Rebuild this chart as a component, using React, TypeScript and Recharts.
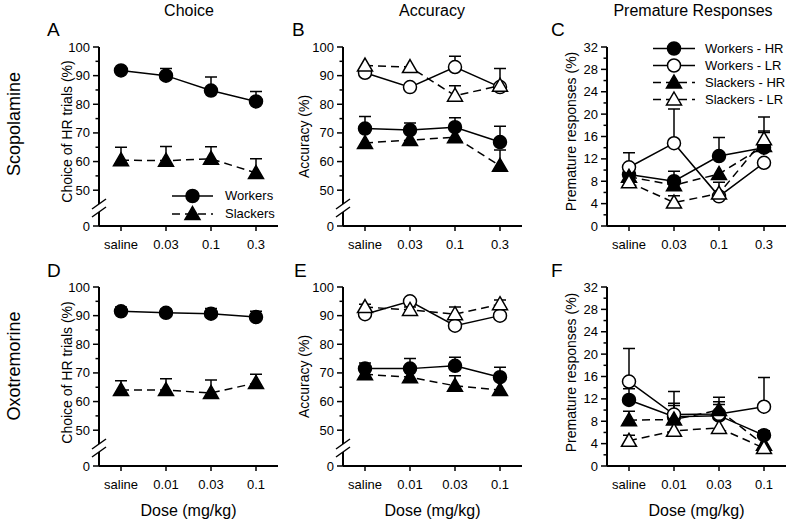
import React from 'react';
import { LineChart, Line, XAxis, YAxis, ErrorBar, Legend } from 'recharts';

const FONT = '"Liberation Sans", Arial, Helvetica, sans-serif';

// ---------- categories & ticks ----------
const scopDoses = ['saline', '0.03', '0.1', '0.3'];
const oxoDoses = ['saline', '0.01', '0.03', '0.1'];
const BREAK_ZERO = 37.5; // axis position that shows "0" below the break
const pctTicks = [37.5, 50, 55, 60, 65, 70, 75, 80, 85, 90, 95, 100];
const premTicks = [0, 2, 4, 6, 8, 10, 12, 14, 16, 18, 20, 22, 24, 26, 28, 30, 32];

// ---------- Panel A: Scopolamine, Choice ----------
const aWorkers = [91.8, 90, 84.8, 81];
const aWorkersErr = [0.8, 2.5, 4.7, 3.5];
const aSlackers = [60.5, 60.3, 61, 56];
const aSlackersErr = [4.5, 5, 4.2, 5];

// ---------- Panel B: Scopolamine, Accuracy ----------
const bWHR = [71.5, 71, 72, 66.8];
const bWHRErr = [4.2, 2.5, 3.3, 5.5];
const bWLR = [91, 86, 93, 86];
const bWLRErr = [0, 0, 3.8, 6.5];
const bSHR = [66.5, 67.5, 68.5, 58.5];
const bSHRErr = [0, 0, 0, 5.5];
const bSLR = [93.5, 93, 83, 86.5];
const bSLRErr = [0, 0, 3.5, 0];

// ---------- Panel C: Scopolamine, Premature ----------
const cWHR = [9.2, 8, 12.5, 14];
const cWHRErr = [0, 1.8, 3.3, 3];
const cWLR = [10.5, 14.8, 5.3, 11.3];
const cWLRErr = [2.6, 6.1, 0, 0];
const cSHR = [8.8, 7.3, 9.3, 14.3];
const cSHRErr = [0, 0, 0, 2.4];
const cSLR = [7.8, 4.2, 5.8, 15.5];
const cSLRErr = [0, 1.2, 2, 4];

// ---------- Panel D: Oxotremorine, Choice ----------
const dWorkers = [91.5, 91, 90.7, 89.5];
const dWorkersErr = [1.5, 1.2, 1.8, 2];
const dSlackers = [64, 64, 63, 66.5];
const dSlackersErr = [3.3, 4, 4.5, 3];

// ---------- Panel E: Oxotremorine, Accuracy ----------
const eWHR = [71.5, 71.5, 72.5, 68.5];
const eWHRErr = [2, 3.5, 3, 3.5];
const eWLR = [90.5, 95, 86.5, 90];
const eWLRErr = [0, 0, 0, 0];
const eSHR = [69.5, 68.5, 65.5, 64];
const eSHRErr = [0, 0, 3.5, 0];
const eSLR = [93, 92, 90.5, 94];
const eSLRErr = [1, 1, 2.5, 1.5];

// ---------- Panel F: Oxotremorine, Premature ----------
const fWHR = [11.8, 8.8, 9, 5.5];
const fWHRErr = [2, 2.4, 2.5, 0.8];
const fWLR = [15.1, 9.2, 9.3, 10.6];
const fWLRErr = [5.9, 4.1, 3, 5.2];
const fSHR = [8.2, 8.3, 10, 3.8];
const fSHRErr = [1.6, 2.5, 1, 0];
const fSLR = [4.5, 6.3, 6.8, 3.2];
const fSLRErr = [1, 0, 0, 0];

type StyleKey = 'WHR' | 'WLR' | 'SHR' | 'SLR';
interface SeriesDef {
  name: string;
  values: number[];
  errs: number[];
  style: StyleKey;
}

const STYLES: Record<StyleKey, { filled: boolean; shape: 'circle' | 'triangle'; dash?: string }> = {
  WHR: { filled: true, shape: 'circle' },
  WLR: { filled: false, shape: 'circle' },
  SHR: { filled: true, shape: 'triangle', dash: '8 5' },
  SLR: { filled: false, shape: 'triangle', dash: '8 5' },
};

function markerEl(cx: number, cy: number, sk: StyleKey, key?: string) {
  const st = STYLES[sk];
  const fill = st.filled ? '#000' : '#fff';
  if (st.shape === 'circle') {
    return <circle key={key} cx={cx} cy={cy} r={6.5} fill={fill} stroke="#000" strokeWidth={1.5} />;
  }
  const d = `M${cx},${cy - 7.5} L${cx + 7.5},${cy + 5.5} L${cx - 7.5},${cy + 5.5} Z`;
  return <path key={key} d={d} fill={fill} stroke="#000" strokeWidth={1.5} strokeLinejoin="miter" />;
}

function buildRows(doses: string[], series: SeriesDef[]) {
  return doses.map((dose, i) => {
    const row: any = { dose };
    series.forEach((s, j) => {
      row[`s${j}`] = s.values[i];
      const e = s.errs[i];
      row[`e${j}`] = e > 0 ? [0, e] : null;
      row[`c${j}`] = e > 0 ? s.values[i] + e : null;
    });
    return row;
  });
}

function renderYTick(p: any, kind: 'pct' | 'prem') {
  const { x, y, payload } = p;
  const v = payload.value;
  const minor = kind === 'pct' ? v % 10 === 5 : v % 4 !== 0;
  const isBreakZero = kind === 'pct' && v === BREAK_ZERO;
  const label = isBreakZero ? '0' : String(v);
  const c = y - 18;
  return (
    <g key={`yt-${v}`}>
      <line x1={x - (minor ? 3.5 : 6)} x2={x} y1={y} y2={y} stroke="#000" strokeWidth={1.5} />
      {!minor && (
        <text x={x - 9} y={y} dy="0.35em" textAnchor="end" fontSize={13} fill="#000" fontFamily={FONT}>
          {label}
        </text>
      )}
      {isBreakZero && (
        <g>
          <rect x={x - 3} y={c - 4} width={6} height={8} fill="#fff" />
          <line x1={x - 7} y1={c + 1} x2={x + 7} y2={c - 9} stroke="#000" strokeWidth={1.5} />
          <line x1={x - 7} y1={c + 9} x2={x + 7} y2={c - 1} stroke="#000" strokeWidth={1.5} />
        </g>
      )}
    </g>
  );
}

interface LegendSpec {
  left: number;
  top: number;
  rowH: number;
  lineW: number;
  gap: number;
  items: { name: string; style: StyleKey }[];
}

function LegendBox({ spec }: { spec: LegendSpec }) {
  return (
    <div style={{ fontFamily: FONT, fontSize: 13, color: '#000' }}>
      {spec.items.map((it) => {
        const st = STYLES[it.style];
        return (
          <div key={it.name} style={{ display: 'flex', alignItems: 'center', height: spec.rowH }}>
            <svg width={spec.lineW} height={spec.rowH} style={{ overflow: 'visible', display: 'block' }}>
              <line
                x1={0}
                x2={spec.lineW}
                y1={spec.rowH / 2}
                y2={spec.rowH / 2}
                stroke="#000"
                strokeWidth={1.5}
                strokeDasharray={st.dash}
              />
              {markerEl(spec.lineW / 2, spec.rowH / 2, it.style)}
            </svg>
            <span style={{ marginLeft: spec.gap, whiteSpace: 'nowrap', lineHeight: `${spec.rowH}px` }}>{it.name}</span>
          </div>
        );
      })}
    </div>
  );
}

interface PanelProps {
  left: number;
  top: number;
  width: number;
  height: number;
  axisX: number;
  plotRight: number;
  xAxisHeight: number;
  doses: string[];
  series: SeriesDef[];
  kind: 'pct' | 'prem';
  yLabel: string;
  yLabelOffset: number;
  yLabelDy: number;
  showDose: boolean;
  legend?: LegendSpec;
}

const Y_W = 60;
const PLOT_TOP = 47;
const PLOT_BOTTOM = 226;

function Panel(props: PanelProps) {
  const {
    left, top, width, height, axisX, plotRight, xAxisHeight, doses, series, kind,
    yLabel, yLabelOffset, yLabelDy, showDose, legend,
  } = props;
  const data = buildRows(doses, series);
  const margin = {
    top: PLOT_TOP,
    left: axisX - left - Y_W,
    right: left + width - plotRight,
    bottom: height - PLOT_BOTTOM - xAxisHeight,
  };
  return (
    <div style={{ position: 'absolute', left, top }}>
      <LineChart width={width} height={height} data={data} margin={margin}>
        <XAxis
          dataKey="dose"
          type="category"
          interval={0}
          padding={{ left: 22, right: 22 }}
          height={xAxisHeight}
          axisLine={{ stroke: '#000', strokeWidth: 2 }}
          tickLine={{ stroke: '#000', strokeWidth: 1.5 }}
          tickSize={5}
          tickMargin={9}
          tick={{ fontSize: 13, fill: '#000', fontFamily: FONT }}
          label={
            showDose
              ? {
                  content: (lp: any) => {
                    const vb = lp.viewBox || {};
                    return (
                      <text
                        x={vb.x + vb.width / 2}
                        y={vb.y + 44}
                        dominantBaseline="central"
                        textAnchor="middle"
                        fontSize={16}
                        fill="#000"
                        fontFamily={FONT}
                      >
                        Dose (mg/kg)
                      </text>
                    );
                  },
                }
              : undefined
          }
        />
        <YAxis
          type="number"
          width={Y_W}
          domain={kind === 'pct' ? [BREAK_ZERO, 100] : [0, 32]}
          ticks={kind === 'pct' ? pctTicks : premTicks}
          interval={0}
          allowDataOverflow
          axisLine={{ stroke: '#000', strokeWidth: 2 }}
          tickLine={false}
          tickSize={0}
          tickMargin={0}
          tick={(p: any) => renderYTick(p, kind)}
          label={{
            content: (lp: any) => {
              const vb = lp.viewBox || {};
              const cx = vb.x + vb.width - yLabelOffset;
              const cy = vb.y + vb.height / 2 + yLabelDy;
              return (
                <text
                  x={cx}
                  y={cy}
                  transform={`rotate(-90 ${cx} ${cy})`}
                  textAnchor="middle"
                  dominantBaseline="central"
                  fontSize={14}
                  fill="#000"
                  fontFamily={FONT}
                >
                  {yLabel}
                </text>
              );
            },
          }}
        />
        {series.map((s, j) => (
          <Line
            key={`cap-${j}`}
            dataKey={`c${j}`}
            stroke="none"
            isAnimationActive={false}
            activeDot={false}
            legendType="none"
            dot={(p: any) => {
              if (p.cy == null || p.cx == null || Number.isNaN(p.cy)) return <g key={`cap-${j}-${p.index}`} />;
              return (
                <line
                  key={`cap-${j}-${p.index}`}
                  x1={p.cx - 6}
                  x2={p.cx + 6}
                  y1={p.cy}
                  y2={p.cy}
                  stroke="#000"
                  strokeWidth={1.5}
                />
              );
            }}
          />
        ))}
        {series.map((s, j) => (
          <Line
            key={`ser-${j}`}
            name={s.name}
            dataKey={`s${j}`}
            stroke="#000"
            strokeWidth={1.5}
            strokeDasharray={STYLES[s.style].dash}
            isAnimationActive={false}
            activeDot={false}
            dot={(p: any) => markerEl(p.cx, p.cy, s.style, `m-${j}-${p.index}`)}
          >
            <ErrorBar dataKey={`e${j}`} width={0} stroke="#000" strokeWidth={1.5} direction="y" isAnimationActive={false} />
          </Line>
        ))}
        {legend && (
          <Legend
            layout="vertical"
            align="center"
            verticalAlign="middle"
            wrapperStyle={{ left: legend.left, top: legend.top, width: 'auto', height: 'auto' }}
            content={() => <LegendBox spec={legend} />}
          />
        )}
      </LineChart>
    </div>
  );
}

const twoGroupA: SeriesDef[] = [
  { name: 'Workers', values: aWorkers, errs: aWorkersErr, style: 'WHR' },
  { name: 'Slackers', values: aSlackers, errs: aSlackersErr, style: 'SHR' },
];
const twoGroupD: SeriesDef[] = [
  { name: 'Workers', values: dWorkers, errs: dWorkersErr, style: 'WHR' },
  { name: 'Slackers', values: dSlackers, errs: dSlackersErr, style: 'SHR' },
];
const fourB: SeriesDef[] = [
  { name: 'Workers - HR', values: bWHR, errs: bWHRErr, style: 'WHR' },
  { name: 'Workers - LR', values: bWLR, errs: bWLRErr, style: 'WLR' },
  { name: 'Slackers - HR', values: bSHR, errs: bSHRErr, style: 'SHR' },
  { name: 'Slackers - LR', values: bSLR, errs: bSLRErr, style: 'SLR' },
];
const fourC: SeriesDef[] = [
  { name: 'Workers - HR', values: cWHR, errs: cWHRErr, style: 'WHR' },
  { name: 'Workers - LR', values: cWLR, errs: cWLRErr, style: 'WLR' },
  { name: 'Slackers - HR', values: cSHR, errs: cSHRErr, style: 'SHR' },
  { name: 'Slackers - LR', values: cSLR, errs: cSLRErr, style: 'SLR' },
];
const fourE: SeriesDef[] = [
  { name: 'Workers - HR', values: eWHR, errs: eWHRErr, style: 'WHR' },
  { name: 'Workers - LR', values: eWLR, errs: eWLRErr, style: 'WLR' },
  { name: 'Slackers - HR', values: eSHR, errs: eSHRErr, style: 'SHR' },
  { name: 'Slackers - LR', values: eSLR, errs: eSLRErr, style: 'SLR' },
];
const fourF: SeriesDef[] = [
  { name: 'Workers - HR', values: fWHR, errs: fWHRErr, style: 'WHR' },
  { name: 'Workers - LR', values: fWLR, errs: fWLRErr, style: 'WLR' },
  { name: 'Slackers - HR', values: fSHR, errs: fSHRErr, style: 'SHR' },
  { name: 'Slackers - LR', values: fSLR, errs: fSLRErr, style: 'SLR' },
];

const legendA: LegendSpec = {
  left: 172,
  top: 187,
  rowH: 18,
  lineW: 41,
  gap: 12,
  items: [
    { name: 'Workers', style: 'WHR' },
    { name: 'Slackers', style: 'SHR' },
  ],
};
const legendC: LegendSpec = {
  left: 123,
  top: 40,
  rowH: 17,
  lineW: 42,
  gap: 10,
  items: [
    { name: 'Workers - HR', style: 'WHR' },
    { name: 'Workers - LR', style: 'WLR' },
    { name: 'Slackers - HR', style: 'SHR' },
    { name: 'Slackers - LR', style: 'SLR' },
  ],
};

const COLS = [
  { left: 0, width: 285, axisX: 99, plotRight: 278 },
  { left: 270, width: 262, axisX: 343, plotRight: 522 },
  { left: 530, width: 259, axisX: 607, plotRight: 786 },
];

export default function App() {
  const topRow = { top: 0, height: 262, xAxisHeight: 30 };
  const botRow = { top: 240, height: 284, xAxisHeight: 53 };
  return (
    <div
      style={{
        position: 'absolute',
        left: 0,
        top: 0,
        width: 789,
        height: 524,
        background: '#fff',
        overflow: 'hidden',
        fontFamily: FONT,
      }}
    >
      <svg width={789} height={524} style={{ position: 'absolute', left: 0, top: 0 }}>
        <g fontFamily={FONT} fill="#000">
          <text x={189} y={16} fontSize={16} textAnchor="middle">Choice</text>
          <text x={432} y={16} fontSize={16} textAnchor="middle">Accuracy</text>
          <text x={693} y={16} fontSize={16} textAnchor="middle">Premature Responses</text>
          <text x={47} y={36} fontSize={19}>A</text>
          <text x={292} y={36} fontSize={19}>B</text>
          <text x={551} y={36} fontSize={19}>C</text>
          <text x={47} y={277} fontSize={19}>D</text>
          <text x={294} y={277} fontSize={19}>E</text>
          <text x={551} y={277} fontSize={19}>F</text>
          <text x={14} y={124} fontSize={18} textAnchor="middle" dominantBaseline="central" transform="rotate(-90 14 124)">
            Scopolamine
          </text>
          <text x={14} y={366} fontSize={18} textAnchor="middle" dominantBaseline="central" transform="rotate(-90 14 366)">
            Oxotremorine
          </text>
        </g>
      </svg>

      <Panel {...COLS[0]} {...topRow} doses={scopDoses} series={twoGroupA} kind="pct"
        yLabel="Choice of HR trials (%)" yLabelOffset={32} yLabelDy={-5} showDose={false} legend={legendA} />
      <Panel {...COLS[1]} {...topRow} doses={scopDoses} series={fourB} kind="pct"
        yLabel="Accuracy (%)" yLabelOffset={39} yLabelDy={0} showDose={false} />
      <Panel {...COLS[2]} {...topRow} doses={scopDoses} series={fourC} kind="prem"
        yLabel="Premature responses (%)" yLabelOffset={36} yLabelDy={-5} showDose={false} legend={legendC} />

      <Panel {...COLS[0]} {...botRow} doses={oxoDoses} series={twoGroupD} kind="pct"
        yLabel="Choice of HR trials (%)" yLabelOffset={32} yLabelDy={-4} showDose={true} />
      <Panel {...COLS[1]} {...botRow} doses={oxoDoses} series={fourE} kind="pct"
        yLabel="Accuracy (%)" yLabelOffset={39} yLabelDy={0} showDose={true} />
      <Panel {...COLS[2]} {...botRow} doses={oxoDoses} series={fourF} kind="prem"
        yLabel="Premature responses (%)" yLabelOffset={36} yLabelDy={-4} showDose={true} />
    </div>
  );
}
